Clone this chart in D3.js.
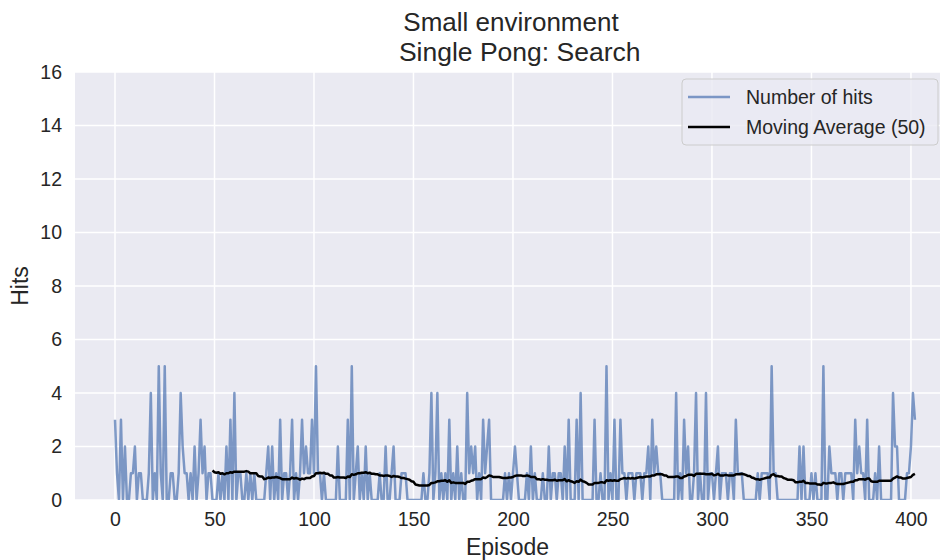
<!DOCTYPE html>
<html>
<head>
<meta charset="utf-8">
<script src="https://cdn.jsdelivr.net/npm/d3@7"></script>
<style>
  html, body { margin: 0; padding: 0; background: #ffffff; }
  svg { display: block; font-family: "Liberation Sans", Arial, sans-serif; }
</style>
</head>
<body>
<svg id="chart" width="944" height="560"></svg>
<script>
// ---- data ----
const titleLines = ["Small environment", " Single Pong: Search"];
const xLabel = "Episode";
const yLabel = "Hits";
const xTicks = [0, 50, 100, 150, 200, 250, 300, 350, 400];
const yTicks = [0, 2, 4, 6, 8, 10, 12, 14, 16];
const seriesNames = ["Number of hits", "Moving Average (50)"];
const maWindow = 50;
const hits = [
  3,1,0,3,0,2,0,0,1,1,  2,0,1,1,0,0,0,1,4,0,  1,0,5,1,0,5,0,0,1,1,  0,0,1,4,2,1,1,0,1,0,  2,0,1,3,1,2,0,1,1,0,
  0,0,1,0,1,0,2,0,3,0,  4,0,1,1,0,0,1,0,1,0,  1,0,0,0,0,0,1,2,0,2,  0,1,0,3,0,1,1,0,1,3,  0,1,0,1,3,1,2,1,1,3,
  1,5,1,1,0,1,0,0,0,0,  0,0,2,0,0,0,0,3,0,5,  0,1,2,0,1,0,2,0,1,0,  0,0,0,1,0,0,2,0,0,1,  2,0,0,0,1,1,1,0,0,0,
  0,0,0,0,0,1,0,0,1,4,  0,1,4,0,1,0,1,0,3,0,  1,0,2,0,1,0,0,4,1,2,  1,2,0,1,0,3,1,2,3,0,  0,0,0,0,0,0,1,0,1,0,
  1,2,1,0,0,0,0,1,0,2,  0,1,0,0,0,1,0,0,2,0,  1,1,0,1,1,0,2,0,3,0,  0,0,3,0,4,0,0,0,0,0,  0,3,0,0,1,0,0,5,0,1,
  0,3,0,0,3,1,1,0,1,1,  1,0,1,1,1,0,1,1,2,0,  3,1,2,1,1,0,0,0,0,0,  0,0,4,0,1,0,3,1,2,0,  0,1,4,0,1,0,0,4,0,1,
  1,0,1,2,0,1,1,1,0,1,  1,0,3,1,1,1,0,0,0,0,  0,0,0,1,0,1,1,1,1,0,  5,1,1,0,0,0,0,0,0,0,  0,0,0,0,2,0,2,0,0,0,
  1,0,1,0,0,0,5,0,0,2,  1,1,1,0,1,1,0,1,1,1,  1,0,3,1,2,1,1,0,3,0,  0,0,1,0,2,0,0,0,0,0,  0,4,2,2,0,0,0,0,1,1,
  2,4,3
];

// ---- derived ----
const hitPoints = hits.map((v, i) => ({ x: i, y: v }));
const maPoints = [];
for (let i = maWindow - 1; i < hits.length; i++) {
  const s = d3.sum(hits.slice(i - maWindow + 1, i + 1));
  maPoints.push({ x: i, y: s / maWindow });
}

// ---- layout ----
const svg = d3.select("#chart");
const plot = { left: 75, right: 940, top: 72, bottom: 500 };
const x = d3.scaleLinear().domain([-20.1, 414.6]).range([plot.left, plot.right]);
const y = d3.scaleLinear().domain([0, 16]).range([plot.bottom, plot.top]);
const textColor = "#262626";
const fontFam = "'Liberation Sans', Arial, sans-serif";

svg.append("rect")
  .attr("x", plot.left).attr("y", plot.top)
  .attr("width", plot.right - plot.left).attr("height", plot.bottom - plot.top)
  .attr("fill", "#EAEAF2");

svg.append("defs").append("clipPath").attr("id", "clip")
  .append("rect")
  .attr("x", plot.left).attr("y", plot.top)
  .attr("width", plot.right - plot.left).attr("height", plot.bottom - plot.top);

// grid
const grid = svg.append("g");
grid.selectAll(".vg").data(xTicks).join("line")
  .attr("x1", d => x(d)).attr("x2", d => x(d))
  .attr("y1", plot.top).attr("y2", plot.bottom)
  .attr("stroke", "#ffffff").attr("stroke-width", 1.5);
grid.selectAll(".hg").data(yTicks).join("line")
  .attr("x1", plot.left).attr("x2", plot.right)
  .attr("y1", d => y(d)).attr("y2", d => y(d))
  .attr("stroke", "#ffffff").attr("stroke-width", 1.5);

// axes (labels only, seaborn darkgrid has no spines/ticks)
const xAxis = d3.axisBottom(x).tickValues(xTicks).tickSize(0).tickPadding(12);
const gx = svg.append("g").attr("transform", `translate(0,${plot.bottom})`).call(xAxis);
gx.select(".domain").remove();
gx.selectAll("text").attr("font-size", 19.5).attr("fill", textColor)
  .attr("font-family", fontFam);

const yAxis = d3.axisLeft(y).tickValues(yTicks).tickSize(0).tickPadding(13);
const gy = svg.append("g").attr("transform", `translate(${plot.left},0)`).call(yAxis);
gy.select(".domain").remove();
gy.selectAll("text").attr("font-size", 19.5).attr("fill", textColor)
  .attr("font-family", fontFam);

// lines
const line = d3.line().x(d => x(d.x)).y(d => y(d.y));
const g = svg.append("g").attr("clip-path", "url(#clip)");
g.append("path").datum(hitPoints)
  .attr("d", line).attr("fill", "none")
  .attr("stroke", "#4C72B0").attr("stroke-opacity", 0.7)
  .attr("stroke-width", 2.5).attr("stroke-linejoin", "round");
g.append("path").datum(maPoints)
  .attr("d", line).attr("fill", "none")
  .attr("stroke", "#000000").attr("stroke-width", 2.5)
  .attr("stroke-linejoin", "round");

// title
svg.append("text").attr("x", 511).attr("y", 31)
  .attr("text-anchor", "middle").attr("font-size", 26).attr("fill", textColor)
  .style("white-space", "pre").text(titleLines[0]);
svg.append("text").attr("x", 516).attr("y", 61)
  .attr("text-anchor", "middle").attr("font-size", 26.5).attr("fill", textColor)
  .attr("xml:space", "preserve").style("white-space", "pre").text(titleLines[1]);

// axis labels
svg.append("text").attr("x", (plot.left + plot.right) / 2).attr("y", 555)
  .attr("text-anchor", "middle").attr("font-size", 23).attr("fill", textColor)
  .text(xLabel);
svg.append("text").attr("transform", `translate(28,${(plot.top + plot.bottom) / 2}) rotate(-90)`)
  .attr("text-anchor", "middle").attr("font-size", 23).attr("fill", textColor)
  .text(yLabel);

// legend
const lg = svg.append("g").attr("transform", "translate(682,79)");
lg.append("rect").attr("x", 0).attr("y", 0).attr("width", 256).attr("height", 66)
  .attr("rx", 4).attr("ry", 4)
  .attr("fill", "#EAEAF2").attr("fill-opacity", 0.8)
  .attr("stroke", "#cccccc").attr("stroke-width", 1);
const legendStyles = [
  { stroke: "#4C72B0", opacity: 0.7, width: 2.5 },
  { stroke: "#000000", opacity: 1, width: 2.5 }
];
seriesNames.forEach((name, i) => {
  const cy = 18 + i * 30;
  lg.append("line").attr("x1", 6).attr("x2", 48).attr("y1", cy).attr("y2", cy)
    .attr("stroke", legendStyles[i].stroke).attr("stroke-opacity", legendStyles[i].opacity)
    .attr("stroke-width", legendStyles[i].width);
  lg.append("text").attr("x", 64).attr("y", cy + 7)
    .attr("font-size", 19.5).attr("fill", textColor).text(name);
});
</script>
</body>
</html>
